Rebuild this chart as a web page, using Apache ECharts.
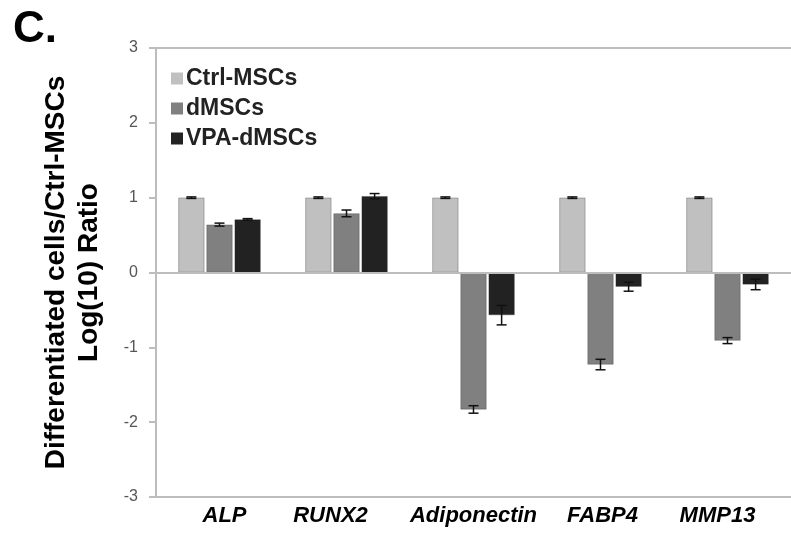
<!DOCTYPE html>
<html lang="en">
<head>
<meta charset="UTF-8">
<script src="https://cdn.jsdelivr.net/npm/echarts@6/dist/echarts.min.js"></script>
<title>Log ratio</title>
<style>
  body { margin: 0; background: #fff; }
  #main { width: 791px; height: 534px; }
</style>
</head>
<body>
<div id="main"></div>
<script>
var genes = ['ALP', 'RUNX2', 'Adiponectin', 'FABP4', 'MMP13'];
var groups = ['Ctrl-MSCs', 'dMSCs', 'VPA-dMSCs'];
var ctrlVals = [1, 1, 1, 1, 1];
var ctrlErr = [0.01, 0.01, 0.01, 0.01, 0.01];
var dVals = [0.64, 0.79, -1.83, -1.23, -0.91];
var dErr = [0.02, 0.045, 0.05, 0.07, 0.04];
var vpaVals = [0.71, 1.02, -0.57, -0.19, -0.16];
var vpaErr = [0.01, 0.035, 0.13, 0.06, 0.07];
var colors = ['#c0c0c0', '#808080', '#222222'];
var yTicks = [-3, -2, -1, 0, 1, 2, 3];

// small horizontal nudges of the gene labels (px), as in the original figure
var labelShift = [5, -16, 0, 2, -10];

var chart = echarts.init(document.getElementById('main'));

var barW = 0.205, gap = 0.08;
function errSeries(vals, errs, idx) {
  var data = vals.map(function (v, i) { return [i, v, errs[i]]; });
  return {
    type: 'custom',
    silent: true,
    z: 5,
    data: data,
    renderItem: function (params, api) {
      var i = api.value(0), v = api.value(1), e = api.value(2);
      var band = api.size([1, 0])[0];
      var off = (idx - 1) * band * barW * (1 + gap);
      var hi = api.coord([i, v + e]);
      var lo = api.coord([i, v - e]);
      var x = hi[0] + off;
      var w = 5;
      var st = { stroke: '#111', lineWidth: 1.5 };
      return {
        type: 'group',
        children: [
          { type: 'line', shape: { x1: x, y1: hi[1], x2: x, y2: lo[1] }, style: st },
          { type: 'line', shape: { x1: x - w, y1: hi[1], x2: x + w, y2: hi[1] }, style: st },
          { type: 'line', shape: { x1: x - w, y1: lo[1], x2: x + w, y2: lo[1] }, style: st }
        ]
      };
    }
  };
}

function barSeries(name, vals, color, withLine) {
  var s = {
    name: name,
    type: 'bar',
    data: vals,
    barWidth: (barW * 100) + '%',
    barGap: (gap * 100) + '%',
    itemStyle: { color: color, borderColor: 'rgba(40,40,40,0.5)', borderWidth: 0.6 }
  };
  if (withLine) {
    // zero line and top frame line
    s.markLine = {
      silent: true,
      symbol: 'none',
      label: { show: false },
      lineStyle: { color: '#bdbdbd', width: 2, type: 'solid' },
      data: [{ yAxis: 0 }, { yAxis: 3 }]
    };
  }
  return s;
}

var catData = genes.map(function (g, i) {
  var d = labelShift[i];
  return {
    value: g,
    textStyle: { padding: d >= 0 ? [0, 0, 0, 2 * d] : [0, -2 * d, 0, 0] }
  };
});

var option = {
  animation: false,
  backgroundColor: '#fff',
  textStyle: { fontFamily: 'Liberation Sans, Arial, sans-serif' },
  title: {
    text: 'C.',
    left: 8,
    top: 3,
    textStyle: { fontSize: 44, fontWeight: 'bold', color: '#000' }
  },
  legend: {
    data: groups,
    orient: 'vertical',
    left: 166,
    top: 62,
    itemWidth: 12,
    itemHeight: 12,
    itemGap: 7,
    icon: 'rect',
    itemStyle: { borderWidth: 0 },
    textStyle: { fontSize: 23, fontWeight: 'bold', color: '#222', padding: [0, 0, 0, -2] }
  },
  grid: { left: 156, right: -1, top: 48, bottom: 37 },
  xAxis: {
    type: 'category',
    data: catData,
    axisLine: { onZero: false, lineStyle: { color: '#bdbdbd', width: 2 } },
    axisTick: { show: false },
    axisLabel: { interval: 0, fontSize: 22, fontWeight: 'bold', fontStyle: 'italic', color: '#000', margin: 8 }
  },
  yAxis: {
    type: 'value',
    min: yTicks[0],
    max: yTicks[yTicks.length - 1],
    interval: 1,
    name: 'Differentiated cells/Ctrl-MSCs\nLog(10) Ratio',
    nameLocation: 'middle',
    nameGap: 50,
    nameTextStyle: { fontSize: 28, fontWeight: 'bold', color: '#000', lineHeight: 33 },
    axisLine: { show: true, lineStyle: { color: '#bdbdbd', width: 2 } },
    axisTick: { show: true, length: 7, lineStyle: { color: '#bdbdbd', width: 2 } },
    axisLabel: { fontSize: 16, color: '#555', margin: 18 },
    splitLine: { show: false }
  },
  series: [
    barSeries(groups[0], ctrlVals, colors[0], true),
    barSeries(groups[1], dVals, colors[1], false),
    barSeries(groups[2], vpaVals, colors[2], false),
    errSeries(ctrlVals, ctrlErr, 0),
    errSeries(dVals, dErr, 1),
    errSeries(vpaVals, vpaErr, 2)
  ]
};
chart.setOption(option);
</script>
</body>
</html>
